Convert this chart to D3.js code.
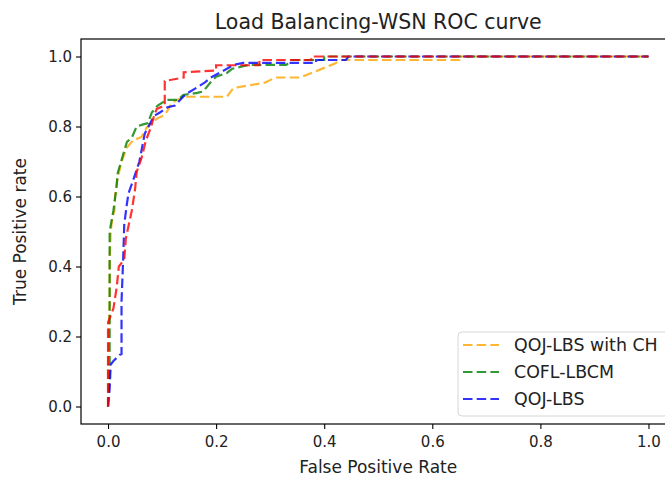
<!DOCTYPE html>
<html lang="en">
<head>
<meta charset="UTF-8">
<title>Load Balancing-WSN ROC curve</title>
<script src="https://d3js.org/d3.v7.min.js"></script>
<style>
    body {margin: 0; background: #fff;}
    svg {display: block; font-family: "DejaVu Sans", sans-serif;}
</style>
</head>
<body>
<script>
    const width = 665;
    const height = 479;

    const seriesNames = ["QOJ-LBS with CH", "COFL-LBCM", "QOJ-LBS", ""];
    const seriesColors = ["orange", "green", "blue", "red"];
    const xTicks = [0.0, 0.2, 0.4, 0.6, 0.8, 1.0];
    const yTicks = [0.0, 0.2, 0.4, 0.6, 0.8, 1.0];

    // [fpr, tpr] points
    const qojCH = [[0,0],[0,0.12],[0.003,0.3],[0.003,0.42],[0.005,0.5],[0.008,0.54],[0.012,0.56],[0.013,0.6],
        [0.016,0.64],[0.025,0.70],[0.035,0.74],[0.046,0.76],[0.062,0.77],[0.071,0.796],[0.08,0.81],[0.092,0.824],
        [0.105,0.833],[0.108,0.84],[0.114,0.856],[0.12,0.87],[0.14,0.885],[0.22,0.885],[0.232,0.91],[0.29,0.925],
        [0.31,0.94],[0.355,0.94],[0.383,0.957],[0.42,0.98],[0.43,0.99],[0.65,0.99],[0.65,1.0],[1,1]];
    const cofl = [[0,0],[0.003,0.1],[0.003,0.5],[0.01,0.56],[0.016,0.63],[0.018,0.667],[0.028,0.72],[0.035,0.756],
        [0.044,0.768],[0.053,0.80],[0.065,0.806],[0.074,0.81],[0.081,0.84],[0.092,0.86],[0.108,0.876],[0.13,0.876],
        [0.139,0.89],[0.165,0.896],[0.176,0.9],[0.189,0.925],[0.2,0.942],[0.22,0.953],[0.23,0.965],[0.26,0.976],
        [0.33,0.976],[0.34,0.99],[0.40,0.99],[0.40,1],[1,1]];
    const qoj = [[0,0],[0.003,0.05],[0.005,0.12],[0.01,0.13],[0.022,0.148],[0.025,0.15],[0.025,0.30],[0.028,0.42],
        [0.03,0.52],[0.035,0.58],[0.038,0.61],[0.045,0.64],[0.053,0.676],[0.058,0.70],[0.068,0.78],[0.075,0.80],
        [0.085,0.83],[0.096,0.84],[0.11,0.855],[0.124,0.86],[0.139,0.885],[0.148,0.896],[0.166,0.913],[0.18,0.927],
        [0.19,0.94],[0.22,0.965],[0.232,0.976],[0.25,0.982],[0.385,0.982],[0.385,0.99],[0.44,0.99],[0.445,1.0],[1,1]];
    const other = [[0,0],[0,0.24],[0.01,0.28],[0.016,0.34],[0.02,0.40],[0.03,0.42],[0.033,0.48],[0.044,0.56],
        [0.05,0.62],[0.053,0.67],[0.062,0.71],[0.07,0.76],[0.08,0.80],[0.085,0.83],[0.09,0.85],[0.105,0.86],
        [0.105,0.93],[0.14,0.94],[0.14,0.955],[0.2,0.96],[0.2,0.975],[0.28,0.975],[0.28,0.99],[0.376,0.99],
        [0.376,1.0],[1,1]];

    const allSeries = [qojCH, cofl, qoj, other];

    const margin = {left: 81, top: 39, right: 675.5, bottom: 424};

    const x = d3.scaleLinear().domain([-0.05, 1.05]).range([margin.left, margin.right]);
    const y = d3.scaleLinear().domain([-0.05, 1.05]).range([margin.bottom, margin.top]);

    const svg = d3.select("body").append("svg")
        .attr("width", width).attr("height", height);

    const line = d3.line().x(d => x(d[0])).y(d => y(d[1]));

    svg.selectAll("path.roc")
        .data(allSeries)
        .enter()
        .append("path")
        .attr("class", "roc")
        .attr("d", line)
        .style("fill", "none")
        .style("stroke", (d, i) => seriesColors[i])
        .style("stroke-opacity", 0.8)
        .style("stroke-width", 2.2)
        .style("stroke-dasharray", "9.5 4.2");

    // axes
    const xAxis = svg.append("g")
        .attr("transform", `translate(0,${margin.bottom})`)
        .call(d3.axisBottom(x).tickValues(xTicks).tickFormat(d3.format(".1f")).tickSizeOuter(0).tickSize(5).tickPadding(4));
    const yAxis = svg.append("g")
        .attr("transform", `translate(${margin.left},0)`)
        .call(d3.axisLeft(y).tickValues(yTicks).tickFormat(d3.format(".1f")).tickSizeOuter(0).tickSize(5).tickPadding(4));

    [xAxis, yAxis].forEach(g => {
        g.select(".domain").remove();
        g.selectAll("line").style("stroke", "#000").style("stroke-width", 1.1);
        g.selectAll("text").style("font-family", "DejaVu Sans").style("font-size", "15px").style("fill", "#222");
    });
    xAxis.selectAll("text").attr("dy", "0.95em");

    // spines
    svg.append("rect")
        .attr("x", margin.left).attr("y", margin.top)
        .attr("width", margin.right - margin.left).attr("height", margin.bottom - margin.top)
        .style("fill", "none").style("stroke", "#000").style("stroke-width", 1.2);

    // labels
    svg.append("text")
        .attr("x", (margin.left + margin.right) / 2).attr("y", 29)
        .attr("text-anchor", "middle")
        .style("font-size", "20.5px").style("fill", "#222")
        .text("Load Balancing-WSN ROC curve");

    svg.append("text")
        .attr("x", (margin.left + margin.right) / 2).attr("y", 473)
        .attr("text-anchor", "middle")
        .style("font-size", "17px").style("fill", "#222")
        .text("False Positive Rate");

    svg.append("text")
        .attr("transform", `translate(26,${(margin.top + margin.bottom) / 2}) rotate(-90)`)
        .attr("text-anchor", "middle")
        .style("font-size", "17px").style("fill", "#222")
        .text("True Positive rate");

    // legend
    const legend = svg.append("g");
    legend.append("rect")
        .attr("x", 458).attr("y", 332).attr("rx", 4)
        .attr("width", 210).attr("height", 84)
        .style("fill", "#fff").style("fill-opacity", 0.8)
        .style("stroke", "#d6d6d6").style("stroke-width", 1);

    const items = legend.selectAll("g.item")
        .data(seriesNames.slice(0, 3))
        .enter()
        .append("g")
        .attr("class", "item")
        .attr("transform", (d, i) => `translate(463,${345 + i * 27})`);
    items.append("line")
        .attr("x1", 0).attr("x2", 36)
        .style("stroke", (d, i) => seriesColors[i])
        .style("stroke-opacity", 0.8)
        .style("stroke-width", 2.2)
        .style("stroke-dasharray", "9.5 4.2");
    items.append("text")
        .attr("x", 51).attr("dy", "0.36em")
        .style("font-size", "17.4px").style("fill", "#222")
        .text(d => d);
</script>
</body>
</html>
